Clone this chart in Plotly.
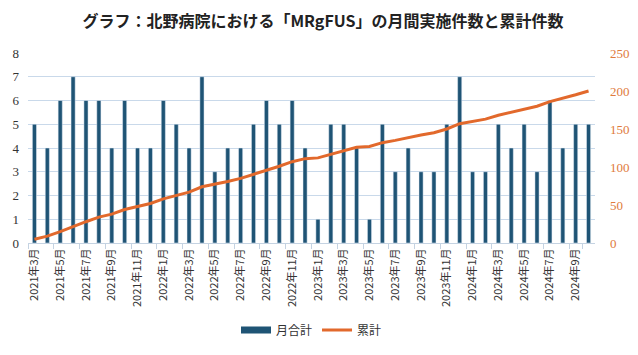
import plotly.graph_objects as go
import numpy as np

months = []
for y in range(2021, 2025):
    for m in range(1, 13):
        if (y == 2021 and m < 3) or (y == 2024 and m > 10):
            continue
        months.append(f"{y}年{m}月")

monthly = [5, 4, 6, 7, 6, 6, 4, 6, 4, 4, 6, 5, 4, 7, 3,
           4, 4, 5, 6, 5, 6, 4,
           1, 5, 5, 4, 1, 5, 3, 4, 3, 3, 5, 7,
           3, 3, 5, 4, 5, 3, 6, 4, 5, 5]
cumulative = list(np.cumsum(monthly))
tick_labels = months[::2]

bar_color = "#1f5475"
line_color = "#E2692C"

fig = go.Figure()
fig.add_trace(go.Bar(x=months, y=monthly, name="月合計", marker_color=bar_color,
                     yaxis="y", showlegend=False))
# legend swatch for the bars (wide rectangle like the original)
fig.add_trace(go.Scatter(x=[None], y=[None], name="月合計", mode="lines",
                         line=dict(color=bar_color, width=7), yaxis="y"))
fig.add_trace(go.Scatter(x=months, y=cumulative, name="累計", mode="lines",
                         line=dict(color=line_color, width=3), yaxis="y2"))

fig.update_layout(
    width=630, height=347,
    margin=dict(l=20, r=43, t=45, b=112, autoexpand=False),
    paper_bgcolor="white", plot_bgcolor="white",
    title=dict(text="<b>グラフ：北野病院における「MRgFUS」の月間実施件数と累計件数</b>",
               x=0.5, xanchor="center", y=0.96, yanchor="middle",
               font=dict(family="Noto Sans CJK JP", size=16, color="#222222")),
    bargap=0.68,
    showlegend=True,
    legend=dict(orientation="h", x=0.5, xanchor="center", y=-0.458, yanchor="middle",
                font=dict(family="Noto Sans CJK JP", size=12, color="#333333"),
                itemwidth=30),
    xaxis=dict(type="category", tickmode="array", tickvals=tick_labels, ticktext=tick_labels,
               tickangle=-90, tickfont=dict(family="Noto Sans CJK JP", size=11, color="#333333"),
               showline=True, linecolor="#c5d3e2", linewidth=1,
               ticks="outside", tickson="boundaries", ticklen=5, tickcolor="#c5d3e2",
               showgrid=False),
    yaxis=dict(range=[0, 8], dtick=1, showgrid=True, gridcolor="#c9d9ea", gridwidth=1,
               tickfont=dict(family="Liberation Serif", size=13, color="#333333"),
               zeroline=False, ticks="", ticklabelstandoff=8),
    yaxis2=dict(range=[0, 250], dtick=50, overlaying="y", side="right", showgrid=False,
                tickfont=dict(family="Liberation Serif", size=13, color="#E07B3C"),
                zeroline=False, showline=False, ticklabelstandoff=14),
)

fig.write_html("out.html")
